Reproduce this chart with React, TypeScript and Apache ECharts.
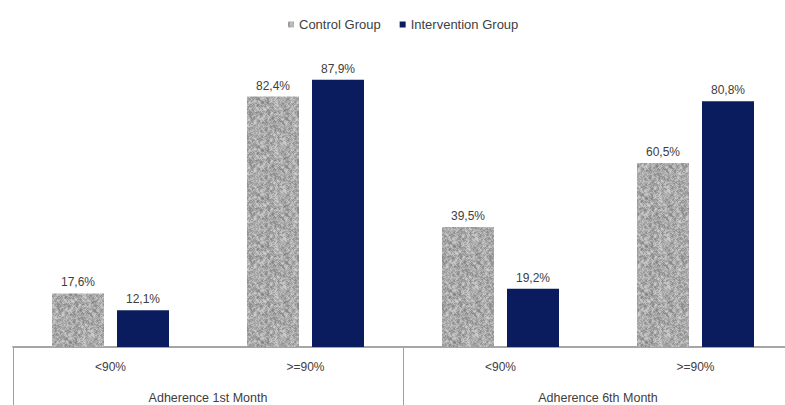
import React, { useEffect, useRef } from "react";
import * as echarts from "echarts";

const categories = ["<90%", ">=90%", "<90%", ">=90%"];
const groups = ["Adherence 1st Month", "Adherence 6th Month"];
const controlValues = [17.6, 82.4, 39.5, 60.5];
const interventionValues = [12.1, 87.9, 19.2, 80.8];
const seriesNames = ["Control Group", "Intervention Group"];

function makeTexture(): HTMLCanvasElement {
  const size = 48;
  const c = document.createElement("canvas");
  c.width = size;
  c.height = size;
  const ctx = c.getContext("2d")!;
  const img = ctx.createImageData(size, size);
  let s = 12345;
  const next = () => {
    s = (s * 1103515245 + 12345) & 0x7fffffff;
    return s / 0x7fffffff;
  };
  const base: number[] = [];
  for (let i = 0; i < size * size; i++) base.push(next());
  for (let y = 0; y < size; y++) {
    for (let x = 0; x < size; x++) {
      let sum = 0;
      for (let dy = -1; dy <= 1; dy++)
        for (let dx = -1; dx <= 1; dx++) {
          const xx = (x + dx + size) % size;
          const yy = (y + dy + size) % size;
          sum += base[yy * size + xx];
        }
      const avg = sum / 9;
      const mix = 0.6 * avg + 0.4 * base[y * size + x];
      const v = Math.round(110 + mix * 120);
      const i = (y * size + x) * 4;
      img.data[i] = v;
      img.data[i + 1] = v;
      img.data[i + 2] = v;
      img.data[i + 3] = 255;
    }
  }
  ctx.putImageData(img, 0, 0);
  return c;
}

const fmt = (p: any) => String(p.value).replace(".", ",") + "%";

export default function App() {
  const ref = useRef<HTMLDivElement>(null);
  useEffect(() => {
    if (!ref.current) return;
    const chart = echarts.init(ref.current, undefined, { renderer: "svg" });
    const texture = makeTexture();
    const font = "Liberation Sans";
    const labelCommon = {
      show: true,
      position: "top" as const,
      distance: 5,
      formatter: fmt,
      fontFamily: font,
      fontSize: 12,
      color: "#404040",
    };
    chart.setOption({
      animation: false,
      backgroundColor: "#ffffff",
      textStyle: { fontFamily: font },
      legend: {
        top: 13,
        left: 283,
        itemWidth: 6,
        itemHeight: 6,
        itemGap: 19,
        icon: "rect",
        textStyle: { fontFamily: font, fontSize: 13, color: "#404040" },
        data: seriesNames,
      },
      grid: { left: 13, width: 780, top: 43, bottom: 58, outerBoundsMode: "none", containLabel: false } as any,
      xAxis: [
        {
          type: "category",
          data: categories,
          position: "bottom",
          axisLine: { show: true, lineStyle: { color: "#a0a0a0", width: 1.5 } },
          axisTick: { show: false },
          axisLabel: {
            margin: 14,
            fontFamily: font,
            fontSize: 12,
            color: "#404040",
          },
        },
        {
          type: "category",
          data: groups,
          position: "bottom",
          axisLine: { show: true, lineStyle: { color: "#a0a0a0", width: 1.5 } },
          axisTick: {
            show: true,
            length: 60,
            lineStyle: { color: "#a0a0a0", width: 1 },
          },
          axisLabel: {
            margin: 44,
            fontFamily: font,
            fontSize: 12.5,
            color: "#404040",
          },
        },
      ],
      yAxis: { type: "value", min: 0, max: 100, show: false, splitLine: { show: false } },
      series: [
        {
          name: seriesNames[0],
          type: "bar",
          xAxisIndex: 0,
          data: controlValues,
          barWidth: 52,
          barGap: "25%",
          itemStyle: { color: { image: texture, repeat: "repeat" } as any },
          label: labelCommon,
        },
        {
          name: seriesNames[1],
          type: "bar",
          xAxisIndex: 0,
          data: interventionValues,
          barWidth: 52,
          barGap: "25%",
          itemStyle: { color: "#0b1c5e" },
          label: labelCommon,
        },
      ],
    });
    return () => chart.dispose();
  }, []);
  return (
    <div
      ref={ref}
      style={{ position: "absolute", left: 0, top: 0, width: 785, height: 405 }}
    />
  );
}
